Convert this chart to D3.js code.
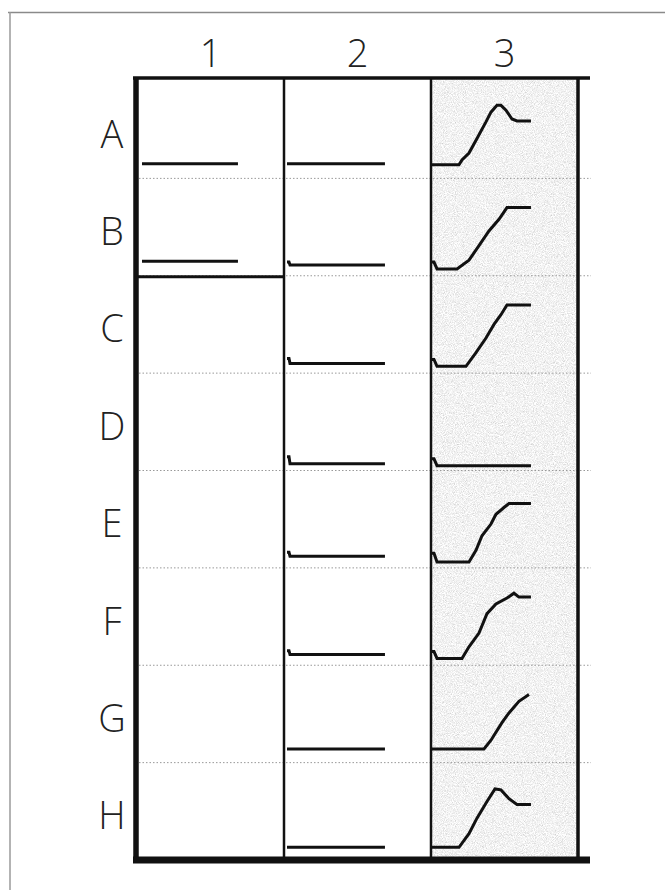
<!DOCTYPE html>
<html>
<head>
<meta charset="utf-8">
<script src="https://cdn.jsdelivr.net/npm/d3@7"></script>
<style>
  body { margin: 0; background: #fff; }
  svg { display: block; }
</style>
</head>
<body>
<script>
// grid of small traces: rows A-H, columns 1-3
var columns = ["1", "2", "3"];
var rows = ["A", "B", "C", "D", "E", "F", "G", "H"];

// each trace is [t, height above the row's bottom line]
var col1 = {
  A: [[5, 15], [101, 15]],
  B: [[5, 15], [101, 15]]
};
// column 1 stops after this row
var col1End = "B";

var col2 = {
  A: [[3, 15], [101, 15]],
  B: [[3, 14], [5, 14], [6, 11], [101, 11]],
  C: [[3, 15], [5, 15], [6, 10], [101, 10]],
  D: [[3, 14], [5, 14], [6, 7], [101, 7]],
  E: [[3, 16], [5, 16], [6, 12], [101, 12]],
  F: [[3, 15], [5, 15], [6, 11], [101, 11]],
  G: [[3, 14], [101, 14]],
  H: [[3, 13], [101, 13]]
};

var col3 = {
  A: [[0, 14], [28, 14], [31, 19], [38, 26], [46, 41], [55, 58], [60, 68], [66, 75], [70, 75], [75, 70], [81, 61], [86, 59], [100, 59]],
  B: [[0, 14], [3, 14], [6, 7], [26, 7], [38, 16], [48, 31], [58, 46], [68, 58], [76, 70], [100, 70]],
  C: [[0, 14], [3, 14], [6, 7], [35, 7], [45, 21], [55, 36], [63, 50], [70, 60], [76, 70], [100, 70]],
  D: [[0, 12], [3, 12], [6, 5], [100, 5]],
  E: [[0, 15], [3, 15], [6, 6], [38, 6], [45, 18], [51, 33], [60, 45], [65, 55], [73, 62], [78, 66], [100, 66]],
  F: [[0, 14], [3, 14], [6, 7], [31, 7], [38, 19], [48, 33], [56, 53], [65, 63], [76, 69], [83, 74], [88, 70], [100, 70]],
  G: [[0, 14], [53, 14], [60, 23], [71, 41], [78, 51], [88, 63], [98, 70]],
  H: [[0, 13], [28, 13], [38, 27], [46, 43], [56, 60], [64, 73], [70, 72], [78, 63], [86, 57], [100, 57]]
};

var traces = { "1": col1, "2": col2, "3": col3 };

var width = 665, height = 890;

var svg = d3.select("body").append("svg")
  .attr("width", width)
  .attr("height", height);

var defs = svg.append("defs");
// speckled grey for the shaded column
var f = defs.append("filter").attr("id", "stipple")
  .attr("x", 0).attr("y", 0).attr("width", 1).attr("height", 1);
f.append("feTurbulence")
  .attr("type", "fractalNoise")
  .attr("baseFrequency", 1.1)
  .attr("numOctaves", 2)
  .attr("seed", 4);
f.append("feColorMatrix").attr("type", "saturate").attr("values", 0);
var ct = f.append("feComponentTransfer");
["R", "G", "B"].forEach(function(c) {
  ct.append("feFunc" + c).attr("type", "linear").attr("slope", 0.9).attr("intercept", 0.44);
});
ct.append("feFuncA").attr("type", "linear").attr("slope", 0).attr("intercept", 1);

var x = d3.scaleBand().domain(columns).range([137, 578]);
var y = d3.scaleBand().domain(rows).range([81, 860]);

// position inside one cell
var t = d3.scaleLinear().domain([0, 100]).range([0, x.bandwidth() * 0.68]);
var v = d3.scaleLinear().domain([0, 100]).range([0, -y.bandwidth()]);

var gridTop = y.range()[0] - 3;
var gridBottom = y.range()[1];
var gridLeft = x.range()[0] - 1;
var gridRight = x.range()[1];

// outer frame
svg.append("line")
  .attr("x1", 8).attr("x2", width).attr("y1", 12.5).attr("y2", 12.5)
  .attr("stroke", "#8a8a8a").attr("stroke-width", 1.5);
svg.append("line")
  .attr("x1", 10).attr("x2", 10).attr("y1", 12).attr("y2", height)
  .attr("stroke", "#9a9a9a").attr("stroke-width", 1.5);

// shaded column
svg.append("rect")
  .attr("x", x("3")).attr("y", gridTop)
  .attr("width", x.bandwidth()).attr("height", gridBottom - gridTop)
  .attr("filter", "url(#stipple)");

// dotted row separators
svg.append("g").selectAll("line")
  .data(rows.slice(0, -1))
  .join("line")
  .attr("x1", gridLeft + 3).attr("x2", gridRight + 13)
  .attr("y1", function(d) { return y(d) + y.bandwidth(); })
  .attr("y2", function(d) { return y(d) + y.bandwidth(); })
  .attr("stroke", "#999")
  .attr("stroke-width", 1)
  .attr("stroke-dasharray", "1.5,2");

// column dividers
svg.append("g").selectAll("line")
  .data(columns.slice(1))
  .join("line")
  .attr("x1", function(d) { return x(d); })
  .attr("x2", function(d) { return x(d); })
  .attr("y1", gridTop).attr("y2", gridBottom)
  .attr("stroke", "#111").attr("stroke-width", 2.5);

// frame of the grid
svg.append("line")
  .attr("x1", gridLeft - 3).attr("x2", gridRight + 12)
  .attr("y1", gridTop).attr("y2", gridTop)
  .attr("stroke", "#111").attr("stroke-width", 3.5);
svg.append("line")
  .attr("x1", gridRight).attr("x2", gridRight)
  .attr("y1", gridTop).attr("y2", gridBottom)
  .attr("stroke", "#111").attr("stroke-width", 3.5);
svg.append("line")
  .attr("x1", gridLeft).attr("x2", gridLeft)
  .attr("y1", gridTop).attr("y2", gridBottom + 2)
  .attr("stroke", "#111").attr("stroke-width", 5.5);
svg.append("line")
  .attr("x1", gridLeft - 3).attr("x2", gridRight + 12)
  .attr("y1", gridBottom).attr("y2", gridBottom)
  .attr("stroke", "#111").attr("stroke-width", 7);

// column 1 closing line
svg.append("line")
  .attr("x1", x("1") + 1).attr("x2", x("2"))
  .attr("y1", y(col1End) + y.bandwidth() + 1)
  .attr("y2", y(col1End) + y.bandwidth() + 1)
  .attr("stroke", "#111").attr("stroke-width", 3);

// traces
var line = d3.line()
  .x(function(d) { return t(d[0]); })
  .y(function(d) { return v(d[1]); });

var cells = [];
columns.forEach(function(c) {
  rows.forEach(function(r) {
    if (traces[c][r]) cells.push({ col: c, row: r, pts: traces[c][r] });
  });
});

svg.append("g").selectAll("path")
  .data(cells)
  .join("path")
  .attr("transform", function(d) {
    return "translate(" + x(d.col) + "," + (y(d.row) + y.bandwidth()) + ")";
  })
  .attr("d", function(d) { return line(d.pts); })
  .attr("fill", "none")
  .attr("stroke", "#111")
  .attr("stroke-width", 3)
  .attr("stroke-linejoin", "miter");

// labels
var font = "'Open Sans', 'DejaVu Sans', sans-serif";
svg.append("g").selectAll("text")
  .data(columns)
  .join("text")
  .attr("x", function(d) { return x(d) + x.bandwidth() / 2; })
  .attr("y", 67)
  .attr("text-anchor", "middle")
  .attr("font-family", font)
  .attr("font-weight", 300)
  .attr("font-size", 38)
  .attr("fill", "#222")
  .text(function(d) { return d; });

svg.append("g").selectAll("text")
  .data(rows)
  .join("text")
  .attr("x", 112)
  .attr("y", function(d) { return y(d) + y.bandwidth() / 2 + 18; })
  .attr("text-anchor", "middle")
  .attr("font-family", font)
  .attr("font-weight", 300)
  .attr("font-size", 38)
  .attr("fill", "#222")
  .text(function(d) { return d; });
</script>
</body>
</html>
